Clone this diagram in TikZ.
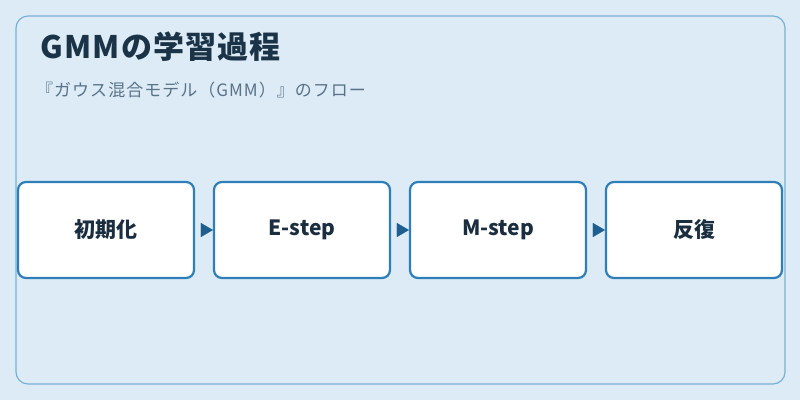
\documentclass[tikz,border=0pt]{standalone}
\usepackage{fontspec}
\setmainfont{Noto Sans CJK JP}
\usetikzlibrary{arrows.meta}
\definecolor{bg}{HTML}{DCEBF6}
\definecolor{frame}{HTML}{7AB0D4}
\definecolor{boxline}{HTML}{2E7FB8}
\definecolor{arr}{HTML}{1F5F8F}
\definecolor{ttl}{HTML}{1A3347}
\definecolor{sub}{HTML}{5A7287}
\definecolor{txt}{HTML}{1A2E40}
\tikzset{
 stepbox/.style={draw=boxline,line width=2.2pt,fill=white,rounded corners=8pt,minimum width=176pt,minimum height=96pt,font=\fontsize{21}{24}\selectfont\bfseries,text=txt},
 flow/.style={draw=arr,line width=0.1pt,-{Triangle[length=12pt,width=14pt]},arr}
}
\begin{document}
\begin{tikzpicture}[x=1pt,y=-1pt]
\useasboundingbox[fill=bg] (0,0) rectangle (800,400);
\draw[frame,line width=1.2pt,rounded corners=12pt] (16,16) rectangle (785,384);
\node[anchor=base west,font=\addfontfeature{LetterSpace=4}\fontsize{31}{34}\selectfont\bfseries,text=ttl,inner sep=0] (title) at (40,58) {GMMの学習過程};
\node[anchor=base west,font=\addfontfeature{LetterSpace=6}\fontsize{17}{20}\selectfont,text=sub,inner sep=0] (subtitle) at (36,96) {『ガウス混合モデル（GMM）』のフロー};
\node[stepbox] (a) at (106,230) {初期化};
\node[stepbox] (b) at (302,230) {E-step};
\node[stepbox] (c) at (498,230) {M-step};
\node[stepbox] (d) at (694,230) {反復};
\draw[flow] ([xshift=-12pt]b.west) -- (b.west);
\draw[flow] ([xshift=-12pt]c.west) -- (c.west);
\draw[flow] ([xshift=-12pt]d.west) -- (d.west);
\end{tikzpicture}
\end{document}
